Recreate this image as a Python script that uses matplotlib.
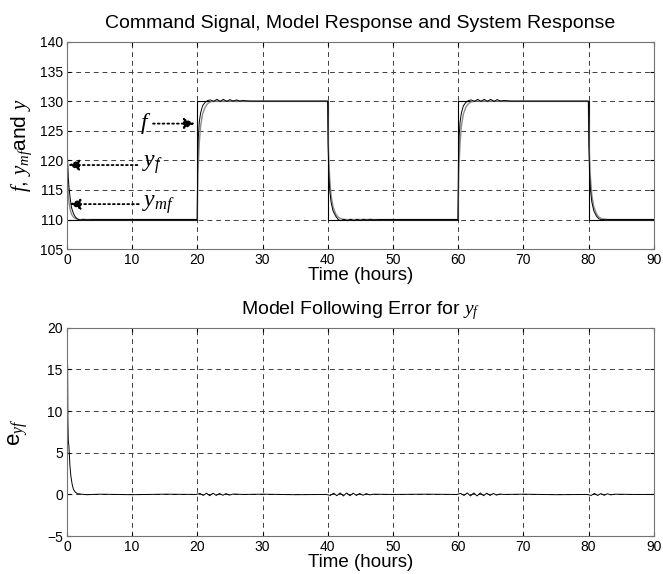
import numpy as np
import matplotlib
matplotlib.use("Agg")
import matplotlib.pyplot as plt

plt.rcParams['font.family'] = ['Liberation Sans', 'DejaVu Sans']
plt.rcParams['mathtext.fontset'] = 'custom'
plt.rcParams['mathtext.it'] = 'Liberation Serif:italic'
plt.rcParams['mathtext.rm'] = 'Liberation Sans'

# command signal f (step changes)
f_t = [0, 20, 40, 60, 80, 90]
f_v = [110, 130, 110, 130, 110, 110]

# system response y_f
yf_t = [0.06, 0.08, 0.12, 0.2, 0.35, 0.5, 0.7, 1.0, 1.3, 1.6, 2.0, 2.5, 3.0, 4.0, 19.98,
        20.0, 20.05, 20.15, 20.3, 20.5, 20.8, 21.2, 21.6, 22.0, 22.5, 23.0, 23.5, 24.0,
        24.5, 25.0, 25.5, 26.0, 26.5, 27.0, 28.0, 39.98,
        40.0, 40.05, 40.15, 40.3, 40.5, 40.8, 41.2, 41.6, 42.0, 42.5, 43.0, 43.5, 44.0,
        44.5, 45.0, 45.5, 46.0, 46.5, 47.0, 48.0, 59.98,
        60.0, 60.05, 60.15, 60.3, 60.5, 60.8, 61.2, 61.6, 62.0, 62.5, 63.0, 63.5, 64.0,
        64.5, 65.0, 65.5, 66.0, 66.5, 67.0, 68.0, 79.98,
        80.0, 80.05, 80.15, 80.3, 80.5, 80.8, 81.2, 81.6, 82.0, 82.5, 83.0, 84.0, 90.0]
yf_v = [133, 121, 119, 117, 115, 113.5, 112, 111, 110.4, 110.1, 109.9, 110.05, 109.95, 110, 110,
        113, 120, 124, 126.5, 128, 129.2, 129.8, 130.1, 130.2, 129.95, 130.3, 129.95, 130.3,
        129.95, 130.25, 130.0, 130.2, 130.0, 130.1, 130, 130,
        129, 123, 118, 115, 113, 111.5, 110.6, 110.0, 109.8, 110.05, 109.8, 110.05, 109.8,
        110.05, 109.85, 110.05, 109.9, 110.05, 109.95, 110, 110,
        113, 120, 124, 126.5, 128, 129.2, 129.8, 130.1, 130.2, 129.95, 130.3, 129.95, 130.3,
        129.95, 130.3, 129.95, 130.25, 130.0, 130.1, 130, 130,
        129, 123, 118, 115, 113, 111.5, 110.6, 110.1, 109.95, 110.05, 110, 110, 110]

# model response y_mf
ym_t = [0.1, 0.14, 0.2, 0.35, 0.5, 0.7, 1.0, 1.3, 1.6, 2.0, 19.98,
        20.0, 20.1, 20.3, 20.5, 20.8, 21.2, 21.6, 22.0, 22.5, 39.98,
        40.0, 40.1, 40.3, 40.5, 40.8, 41.2, 41.6, 42.0, 42.5, 59.98,
        60.0, 60.1, 60.3, 60.5, 60.8, 61.2, 61.6, 62.0, 62.5, 79.98,
        80.0, 80.1, 80.3, 80.5, 80.8, 81.2, 81.6, 82.0, 82.5, 90.0]
ym_v = [119, 116, 114, 112.6, 111.7, 110.9, 110.4, 110.15, 110.05, 110, 110,
        112, 118, 123, 125.8, 127.8, 129.0, 129.6, 129.85, 130, 130,
        128, 122, 117, 114.2, 112.2, 111.0, 110.4, 110.15, 110, 110,
        112, 118, 123, 125.8, 127.8, 129.0, 129.6, 129.85, 130, 130,
        128, 122, 117, 114.2, 112.2, 111.0, 110.4, 110.15, 110, 110]

# model following error e_yf
e_t = [0.1, 0.14, 0.2, 0.3, 0.45, 0.6, 0.8, 1.0, 1.3, 1.6, 2.0, 3.0, 5.0, 10, 15, 19.8,
       20.4, 20.9, 21.4, 21.9, 22.4, 22.9, 23.4, 23.9, 24.4, 24.9, 25.5, 27, 30, 35, 39.8,
       40.4, 40.9, 41.4, 41.9, 42.4, 42.9, 43.4, 43.9, 44.4, 44.9, 45.4, 45.9, 46.4, 47, 50, 55, 59.8,
       60.4, 60.9, 61.4, 61.9, 62.4, 62.9, 63.4, 63.9, 64.4, 64.9, 65.4, 65.9, 66.4, 67, 70, 75, 79.8,
       80.4, 80.9, 81.4, 81.9, 82.4, 82.9, 83.4, 84, 87, 90]
e_v = [15.5, 9, 6.5, 5.8, 3.5, 2.2, 1.2, 0.6, 0.25, 0.1, 0.05, -0.03, 0.03, -0.03, 0.03, 0,
       0.12, -0.12, 0.15, -0.15, 0.15, -0.12, 0.12, -0.1, 0.1, -0.08, 0.05, 0, 0.03, -0.03, 0,
       -0.12, 0.15, -0.15, 0.18, -0.18, 0.18, -0.15, 0.15, -0.12, 0.12, -0.1, 0.1, -0.05, 0.03, 0, 0.03, 0,
       0.12, -0.12, 0.18, -0.18, 0.18, -0.18, 0.18, -0.15, 0.15, -0.12, 0.12, -0.08, 0.05, 0, 0.03, -0.03, 0,
       -0.12, 0.12, -0.12, 0.1, -0.1, 0.08, -0.05, 0.03, 0, 0]


def style_axes(ax):
    ax.grid(True, color='0.25', linestyle=(0, (5, 4)), linewidth=0.7)
    ax.tick_params(direction='in', length=3, labelsize=10, top=True, right=True, pad=3)
    for s in ax.spines.values():
        s.set_color('0.45')
        s.set_linewidth(0.8)
    ax.set_xlim(0, 90)
    ax.set_xticks(np.arange(0, 91, 10))


fig = plt.figure(figsize=(6.63, 5.74), dpi=100)
ax1 = fig.add_axes([0.101, 0.566, 0.885, 0.361])
ax2 = fig.add_axes([0.101, 0.066, 0.885, 0.363])

ax1.plot(f_t, f_v, drawstyle='steps-post', color='k', lw=0.8)
ax1.plot(ym_t, ym_v, color='0.55', lw=1.0)
ax1.plot(yf_t, yf_v, color='k', lw=0.7)
style_axes(ax1)
ax1.set_ylim(105, 140)
ax1.set_yticks(np.arange(105, 141, 5))
ax1.set_xlabel('Time (hours)', fontsize=13.5, labelpad=0)
ax1.set_ylabel(r'$f$, $y_{mf}$and $y$', fontsize=15, labelpad=4)
ax1.set_title('Command Signal, Model Response and System Response', fontsize=14, pad=10)

arrow = dict(arrowstyle='-|>', linestyle=':', color='k', lw=1.3,
             mutation_scale=16, shrinkA=0, shrinkB=0)
ax1.annotate('', xy=(19.6, 126.2), xytext=(13.2, 126.2), arrowprops=arrow)
ax1.text(12.9, 126.2, r'$f$', fontsize=17, ha='right', va='center')
ax1.annotate('', xy=(0.2, 119.2), xytext=(10.8, 119.2), arrowprops=arrow)
ax1.text(11.5, 119.2, r'$y_f$', fontsize=17, ha='left', va='center')
ax1.annotate('', xy=(0.4, 112.6), xytext=(11.0, 112.6), arrowprops=arrow)
ax1.text(11.5, 112.6, r'$y_{mf}$', fontsize=17, ha='left', va='center')

ax2.plot(e_t, e_v, color='k', lw=0.7)
style_axes(ax2)
ax2.set_ylim(-5, 20)
ax2.set_yticks(np.arange(-5, 21, 5))
ax2.set_xlabel('Time (hours)', fontsize=13.5, labelpad=0)
ax2.set_ylabel(r'e$_{yf}$', fontsize=16, labelpad=12)
ax2.set_title(r'Model Following Error for $y_f$', fontsize=14, pad=10)

fig.savefig('out.png', dpi=100)
